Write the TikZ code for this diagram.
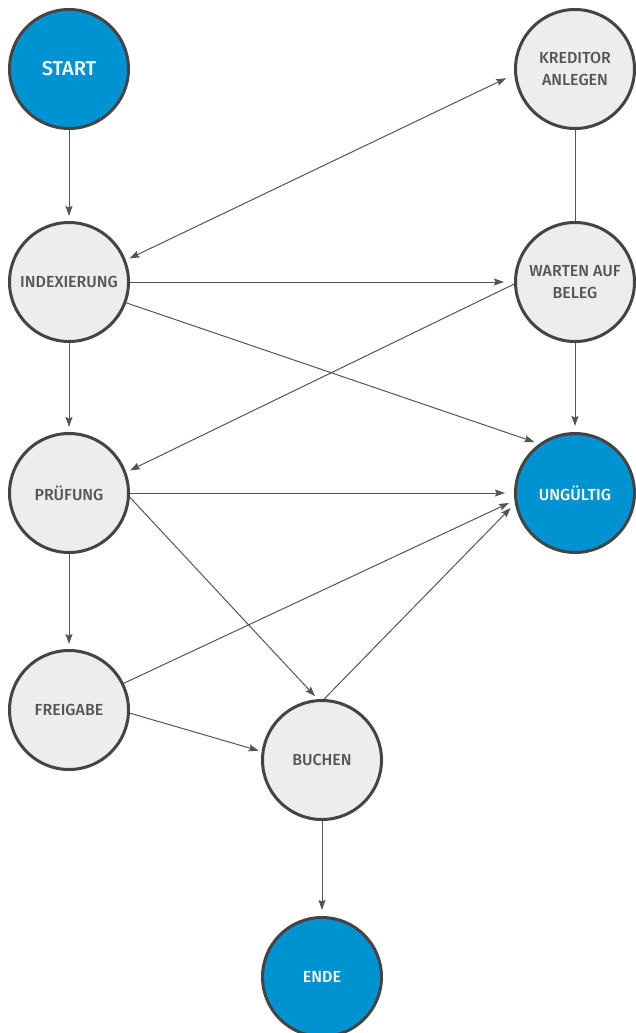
\documentclass[tikz,border=0pt]{standalone}
\usepackage{fontspec}
\setmainfont{Fira Sans}[BoldFont={Fira Sans Medium}]
\usetikzlibrary{arrows.meta}
\definecolor{procblue}{HTML}{0093D1}
\definecolor{procgray}{HTML}{ECEDEC}
\definecolor{procline}{HTML}{444444}
\definecolor{proctext}{HTML}{555555}
\tikzset{
    every state/.style={circle, draw=procline, line width=3pt, minimum size=119pt,
        inner sep=0pt, align=center, text=proctext, fill=procgray,
        font=\bfseries\fontsize{16}{21.5}\selectfont}, % grey process step
    endpoint/.style={every state, fill=procblue, text=white}, % start, end and invalid
    flow/.style={draw=proctext, line width=1pt}, % connector
    >={Stealth[length=10pt, width=7pt, inset=1.5pt]}, % arrow heads
}
\begin{document}
\begin{tikzpicture}[x=1pt, y=-1pt]
    \useasboundingbox (0,0) rectangle (635,1033);
    \node[endpoint, font=\bfseries\fontsize{20}{21.5}\selectfont] (start) at (69,69) {START};
    \node[every state] (kred) at (575,69) {KREDITOR\\ANLEGEN};
    \node[every state] (index) at (69,282) {INDEXIERUNG};
    \node[every state] (wait) at (575,282) {WARTEN AUF\\BELEG};
    \node[every state] (check) at (69,493) {PRÜFUNG};
    \node[endpoint] (invalid) at (575,493) {UNGÜLTIG};
    \node[every state] (release) at (69,710) {FREIGABE};
    \node[every state] (book) at (322,760) {BUCHEN};
    \node[endpoint] (end) at (322,977) {ENDE};
    \draw[flow, ->, shorten >=5pt] (start) -- (index);
    \draw[flow, <->, shorten <=4pt, shorten >=9pt] (index.21) -- (kred.185);
    \draw[flow] (kred) -- (wait);
    \draw[flow, ->, shorten >=10pt] (index) -- (wait);
    \draw[flow, ->, shorten >=4pt] (wait.182) -- (check.20);
    \draw[flow, ->, shorten >=5pt] (index.-20) -- (invalid.126);
    \draw[flow, ->, shorten >=6pt] (wait) -- (invalid);
    \draw[flow, ->, shorten >=5pt] (index) -- (check);
    \draw[flow, ->, shorten >=9pt] (check) -- (invalid);
    \draw[flow, ->, shorten >=4pt] (check.-4) -- (book.94);
    \draw[flow, ->, shorten >=5pt] (check) -- (release);
    \draw[flow, ->, shorten >=6pt] (release.26) -- (invalid.187);
    \draw[flow, ->, shorten >=3pt] (release.-3) -- (book.172);
    \draw[flow, ->, shorten >=6pt] (book.88) -- (invalid.190);
    \draw[flow, ->, shorten >=6pt] (book) -- (end);
\end{tikzpicture}
\end{document}
